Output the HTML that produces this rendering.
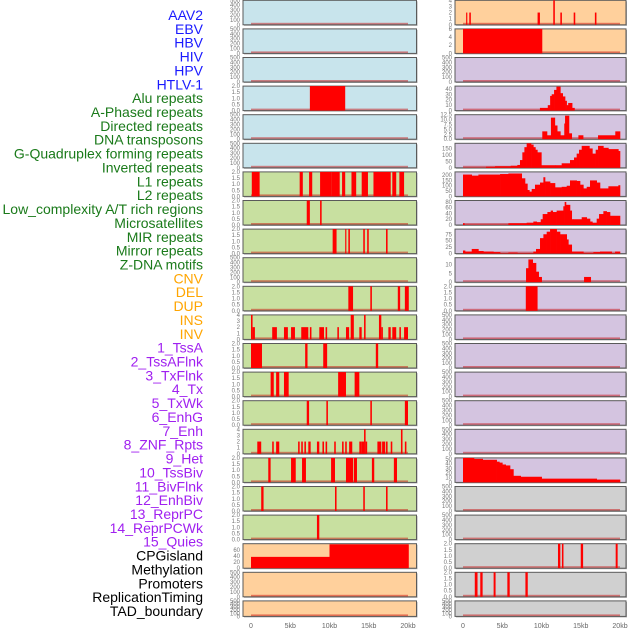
<!DOCTYPE html>
<html><head><meta charset="utf-8"><style>
body{margin:0;background:#fff;}
svg{display:block;font-family:"Liberation Sans",sans-serif;}
</style></head><body>
<svg id="c" width="630" height="630" viewBox="0 0 630 630"></svg>
<script>
// ---------- data ----------
const labelNames = ["AAV2","EBV","HBV","HIV","HPV","HTLV-1","Alu repeats","A-Phased repeats","Directed repeats","DNA transposons","G-Quadruplex forming repeats","Inverted repeats","L1 repeats","L2 repeats","Low_complexity A/T rich regions","Microsatellites","MIR repeats","Mirror repeats","Z-DNA motifs","CNV","DEL","DUP","INS","INV","1_TssA","2_TssAFlnk","3_TxFlnk","4_Tx","5_TxWk","6_EnhG","7_Enh","8_ZNF_Rpts","9_Het","10_TssBiv","11_BivFlnk","12_EnhBiv","13_ReprPC","14_ReprPCWk","15_Quies","CPGisland","Methylation","Promoters","ReplicationTiming","TAD_boundary"];
const labelGroups = [0,0,0,0,0,0,1,1,1,1,1,1,1,1,1,1,1,1,1,2,2,2,2,2,3,3,3,3,3,3,3,3,3,3,3,3,3,3,3,4,4,4,4,4];
const xTickValues = [0,5,10,15,20];
const xTickLabels = ["0","5kb","10kb","15kb","20kb"];
const emptyTicks = [0,100,200,300,400,500];
const twoTicks = [0,0.5,1.0,1.5,2.0];

const L_alu = [[7.5,12.0,2]];
const L_l1 = [[0.1,1.1,2],[6.2,6.6,2],[7.4,7.8,2],[8.8,10.3,2],[10.3,11.3,2],[11.6,12.0,2],[12.8,13.4,2],[14.1,14.9,2],[15.6,17.8,2],[18.0,18.5,2],[18.9,19.5,2]];
const L_l2 = [[7.1,7.5,2],[8.8,9.0,2]];
const L_mir = [[10.4,10.9,2],[12.0,12.15,2],[12.4,12.6,2],[14.3,14.5,2],[14.8,15.0,2],[17.2,17.4,2]];
const L_del = [[12.4,13.0,2],[15.2,15.4,2],[18.7,19.0,2],[19.6,20.1,2]];
const L_ins = [[0,0.2,4],[0.2,0.5,2],[2.7,3.3,2],[4.2,4.7,2],[5.1,5.6,2],[6.4,7.3,2],[7.5,7.7,2],[8.7,9.3,2],[9.5,9.7,2],[11.0,11.2,2],[12.1,12.5,2],[12.7,13.1,4],[13.8,14.1,2],[14.4,14.6,4],[16.3,16.6,4],[16.6,16.8,2],[17.5,17.8,2],[18.0,18.5,2],[18.9,19.1,2],[19.5,20.0,2]];
const L_tssa = [[0,1.4,2],[6.9,7.2,2],[9.2,9.7,2],[15.9,16.2,2]];
const L_tssaflnk = [[2.5,2.9,2],[3.2,3.6,2],[4.2,4.8,2],[11.1,12.1,2],[13.2,13.8,2]];
const L_txflnk = [[7.1,7.4,2],[9.6,9.8,2],[15.2,15.4,2],[19.6,20.0,2]];
const L_tx = [[0.8,1.3,2],[2.7,2.9,2],[3.2,3.6,2],[6.0,6.2,2],[6.4,6.6,2],[6.8,7.0,2],[7.3,7.6,2],[8.4,8.7,2],[9.1,9.3,2],[9.5,9.7,2],[10.6,10.8,2],[11.6,11.8,2],[12.0,12.2,2],[12.5,12.9,2],[13.8,14.1,2],[14.1,14.4,2],[14.4,14.6,4],[14.6,14.8,2],[16.1,16.6,2],[16.7,17.1,2],[17.2,17.4,2],[17.8,18.0,2],[19.1,19.3,4],[19.6,19.8,2]];
const L_txwk = [[2.2,2.5,2],[5.1,5.7,2],[6.5,7.0,2],[10.2,10.7,2],[12.1,13.0,2],[13.1,13.5,2],[15.4,15.7,2],[18.2,18.6,2]];
const L_enhg = [[1.3,1.6,2],[10.7,10.9,2],[14.3,14.5,2],[17.2,17.4,2]];
const L_enh = [[8.4,8.7,2]];
const L_cpg = [[0,10,37],[10,20.1,78]];

const R_aav2 = [[0.4,0.55,2],[0.8,1.0,2],[9.5,9.8,2],[11.5,11.7,4],[12.4,12.6,2],[14.1,14.3,2],[16.8,17.0,2]];
const R_ebv = [[0,10.1,6]];
const R_del = [[8.0,9.5,2]];
const R_cpg = [[12.1,12.4,2],[12.6,12.8,2],[15.0,15.3,2],[19.45,19.7,2]];
const R_meth = [[1.5,1.85,2],[2.2,2.5,2],[3.9,4.15,2],[5.65,5.95,2],[7.95,8.25,2]];

const R_aluSteps = [[9.8,5],[10.8,10],[11.1,27],[11.3,30],[11.6,38],[11.9,44],[12.4,32],[12.7,26],[13.0,18],[13.2,10],[13.4,14],[13.9,5],[14.2,0]];
const R_aphSteps = [[10.1,4],[10.7,2],[11.2,11],[11.7,7],[12.0,4],[12.4,2],[12.9,8],[13.0,12],[13.5,3],[13.85,0],[14.7,2],[15.3,0],[17.2,2],[19.4,4],[20.0,0]];
const R_gquadSteps = [[0,2],[2.93,8],[4.08,12],[6.08,16],[6.92,22],[7.26,60],[7.56,120],[7.82,160],[8.11,190],[8.67,180],[8.96,160],[9.22,140],[9.47,120],[9.98,20],[11.72,20],[12.57,35],[13.63,60],[14.14,80],[14.48,110],[14.78,140],[15.12,170],[16.10,150],[16.48,110],[16.90,140],[17.20,170],[17.88,155],[18.52,145],[19.79,130],[20.0,0]];
const R_invSteps = [[0,205],[1.11,195],[1.96,205],[4.72,210],[5.78,215],[7.48,170],[7.90,120],[8.20,60],[8.45,45],[8.75,70],[9.17,110],[9.81,130],[10.24,180],[10.45,140],[11.09,125],[11.72,85],[12.57,90],[13.21,100],[13.63,150],[14.48,145],[14.91,110],[15.33,75],[15.76,90],[16.18,150],[17.03,130],[17.45,75],[18.52,95],[19.79,105],[20.0,0]];
const R_l1Steps = [[0,6],[0.17,1],[5.78,6],[8.11,8],[8.96,12],[9.39,10],[9.90,20],[10.15,38],[10.75,45],[11.17,50],[11.43,45],[11.93,50],[12.78,65],[12.95,80],[13.12,70],[13.63,50],[13.85,20],[14.06,20],[15.12,27],[15.76,22],[16.18,12],[16.48,8],[17.03,22],[17.33,38],[17.88,48],[18.30,45],[18.73,32],[20.0,0]];
const R_l2Steps = [[0,12],[0.26,8],[1.11,18],[1.96,10],[2.59,8],[3.87,6],[4.72,2],[5.78,4],[6.92,2],[8.96,8],[9.30,18],[9.81,60],[10.24,75],[10.66,85],[11.09,95],[11.93,85],[12.36,75],[13.21,55],[13.42,35],[13.85,8],[15.33,3],[16.61,6],[17.45,8],[18.94,2],[19.37,8],[20.0,0]];
const R_lowSteps = [[8.03,8],[8.33,13],[8.88,11],[9.30,6],[9.64,3],[10.02,0],[15.42,3],[16.27,0]];
const R_hetSteps = [[0,52],[1.40,50],[2.51,48],[4.29,44],[4.63,42],[5.01,38],[5.44,36],[5.99,28],[6.42,14],[7.35,12],[10.02,8],[17.03,6],[20.0,0]];

const rowYmaxL = [500,500,500,2,500,500,2,2,2,500,2,4,2,2,2,4,2,2,2,80,500,500];
const rowYmaxR = [4,6,500,45,12.5,190,230,85,95,14,2,500,500,500,500,500,52,500,500,2,2,500];
const rowTicksL = [emptyTicks,emptyTicks,emptyTicks,twoTicks,emptyTicks,emptyTicks,twoTicks,twoTicks,twoTicks,emptyTicks,twoTicks,[0,1,2,3,4],twoTicks,twoTicks,twoTicks,[0,1,2,3,4],twoTicks,twoTicks,twoTicks,[0,20,40,60],emptyTicks,emptyTicks];
const rowTicksR = [[0,1,2,3,4],[0,2,4,6],emptyTicks,[0,10,20,30,40],[0,2.5,5,7.5,10,12.5],[0,50,100,150],[0,50,100,150,200],[0,20,40,60,80],[0,25,50,75],[0,5,10],twoTicks,emptyTicks,emptyTicks,emptyTicks,emptyTicks,emptyTicks,[0,10,20,30,40,50],emptyTicks,emptyTicks,twoTicks,twoTicks,emptyTicks];
const rowDataL = [null,null,null,L_alu,null,null,L_l1,L_l2,L_mir,null,L_del,L_ins,L_tssa,L_tssaflnk,L_txflnk,L_tx,L_txwk,L_enhg,L_enh,L_cpg,null,null];
const rowDataR = [R_aav2,R_ebv,null,R_aluSteps,R_aphSteps,R_gquadSteps,R_invSteps,R_l1Steps,R_l2Steps,R_lowSteps,R_del,null,null,null,null,null,R_hetSteps,null,null,R_cpg,R_meth,null];
const rowIsStepR = [false,false,false,true,true,true,true,true,true,true,false,false,false,false,false,false,true,false,false,false,false,false];

// ---------- drawing ----------
const NS="http://www.w3.org/2000/svg";
const svg=document.getElementById('c');
function mk(tag,attrs,parent){const e=document.createElementNS(NS,tag);for(const k in attrs)e.setAttribute(k,attrs[k]);(parent||svg).appendChild(e);return e;}
const groupColors=["#1a1aff","#1a7a1a","#ffa500","#a020f0","#000000"];
const labelTop=15, labelPitch=(611-15)/(labelNames.length-1);
labelNames.forEach((n,i)=>{
  const t=mk('text',{x:203,y:labelTop+i*labelPitch+5,'text-anchor':'end','font-size':14,fill:groupColors[labelGroups[i]]});
  
  
  t.textContent=n;
});
const cols=[{x0:243,x1:416.5,zero:251,bgs:i=>i<6?"#c8e4ec":(i<19?"#c8e0a0":"#ffd09c"),data:rowDataL,ymax:rowYmaxL,ticks:rowTicksL,step:i=>false,name:'left'},
            {x0:455,x1:626,zero:463,bgs:i=>i<2?"#ffd09c":(i<17?"#d4c4e0":"#d0d0d0"),data:rowDataR,ymax:rowYmaxR,ticks:rowTicksR,step:i=>rowIsStepR[i],name:'right'}];
const pxPerKb=(408-251)/20;
function rowTop(i){return i*28.6+0.3;}
function rowH(i){return i===21?15.5:24.5;}
cols.forEach(c=>{
  const xs=kb=>c.zero+kb*pxPerKb;
  for(let i=0;i<22;i++){
    const top=rowTop(i),h=rowH(i),bot=top+h;
    const g=mk('g',{});
    
    
    mk('rect',{x:c.x0+1,y:top+1,width:c.x1-c.x0,height:h,fill:'#aaa'},g);
    mk('rect',{x:c.x0,y:top,width:c.x1-c.x0,height:h,fill:c.bgs(i),stroke:'#5a5a5a','stroke-width':1},g);
    const ym=c.ymax[i];
    const ys=v=>bot-v/ym*h;
    const tk=c.ticks[i];
    const dec=tk.some(v=>v%1!==0);
    tk.forEach(v=>{
      const t=mk('text',{x:c.x0-3,y:ys(v)+2,'text-anchor':'end','font-size':6,fill:'#777'},g);
      
      
      t.textContent=dec?v.toFixed(1):String(v);
    });
    mk('rect',{x:xs(0),y:bot-2,width:xs(20)-xs(0),height:1.6,fill:'rgba(200,0,0,0.45)'},g);
    const d=c.data[i];
    if(!d)continue;
    if(c.step(i)){
      for(let k=0;k<d.length-1;k++){
        const v=d[k][1];if(v<=0)continue;
        const x0=xs(d[k][0]),x1=xs(d[k+1][0]);
        const r=mk('rect',{x:x0,y:ys(v),width:Math.max(0.5,x1-x0+0.3),height:bot-ys(v),fill:'#ff0000'},g);
        
        
      }
    } else {
      d.forEach(iv=>{
        const x0=xs(iv[0]),x1=xs(iv[1]);
        const r=mk('rect',{x:x0,y:ys(iv[2]),width:Math.max(1,x1-x0),height:bot-ys(iv[2]),fill:'#ff0000'},g);
        
        
      });
    }
  }
  xTickValues.forEach((v,k)=>{
    const t=mk('text',{x:xs(v),y:628,'text-anchor':'middle','font-size':7,fill:'#666'});
    
    
    t.textContent=xTickLabels[k];
  });
});
</script>
</body></html>
